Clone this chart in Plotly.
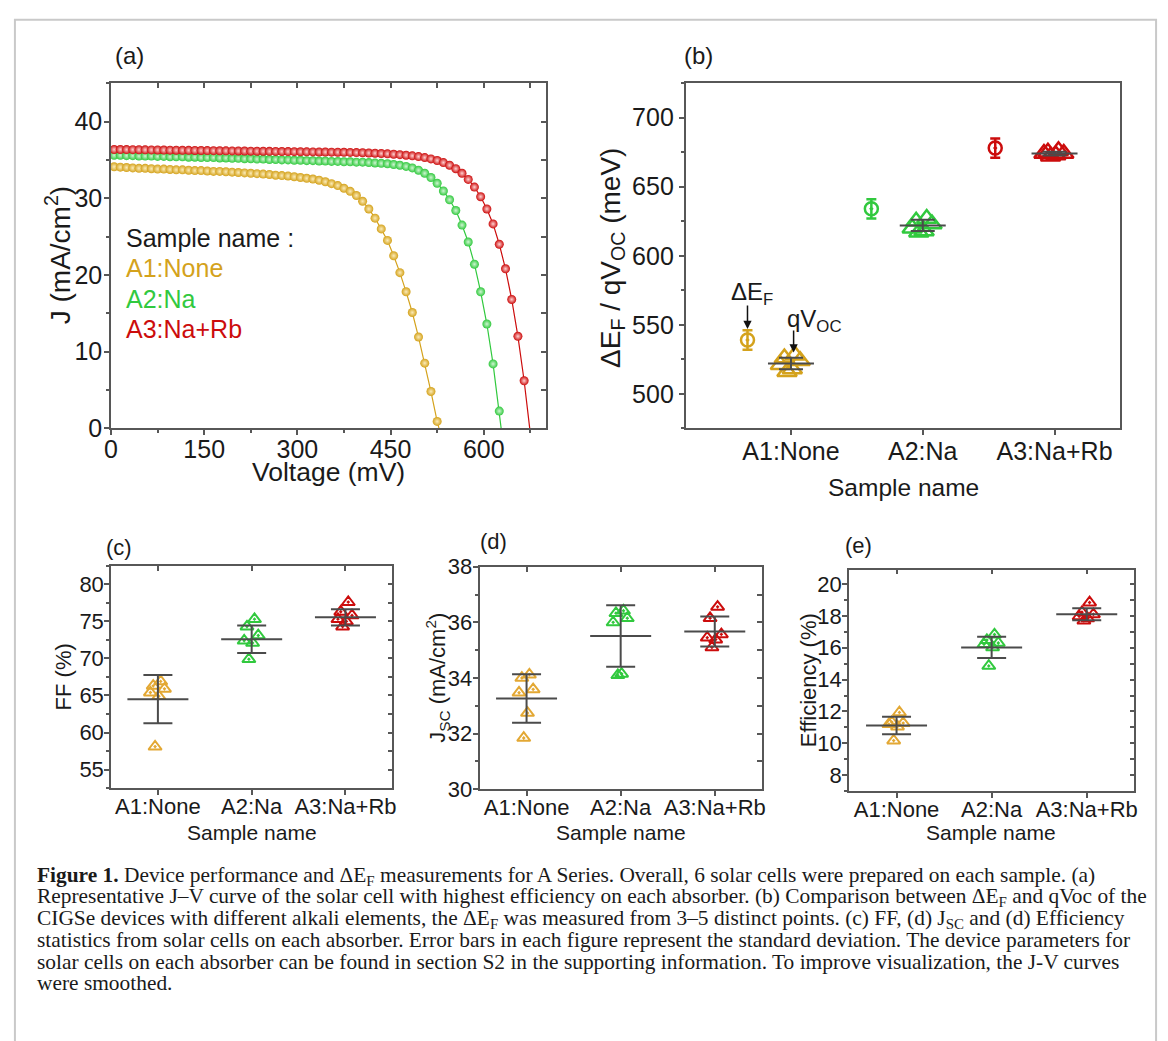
import plotly.graph_objects as go

W, H = 1168, 1041

SANS = "Liberation Sans, Arial, Helvetica, sans-serif"
SERIF = "Liberation Serif, Times New Roman, serif"
INK = "#1a1a1a"
AXIS = "#575757"
GREY = "#4b4b4b"

GOLD, GREEN, RED = "#D4A21C", "#31C93E", "#CC0C0C"
GOLD_LIGHT, GREEN_LIGHT, RED_LIGHT = "#FBEBB8", "#CFF5D2", "#FFD2D2"
GOLD_TRI = "#E3A834"

# ---------------- data ----------------
samples = ["A1:None", "A2:Na", "A3:Na+Rb"]
cats = [1, 2, 3]

# J-V curves: voltage (mV) and current density (mA/cm2)
voltage_mv = [5, 15, 25, 35, 45, 55, 65, 75, 85, 95,
              105, 115, 125, 135, 145, 155, 165, 175, 185, 195,
              205, 215, 225, 235, 245, 255, 265, 275, 285, 295,
              305, 315, 325, 335, 345, 355, 365, 375, 385, 395,
              405, 415, 425, 435, 445, 455, 465, 475, 485, 495,
              505, 515, 525, 535, 545, 555, 565, 575, 585, 595,
              605, 615, 625, 635, 645, 655, 665]

j_none = [34.10, 34.05, 34.00, 33.95, 33.90, 33.90, 33.85, 33.80, 33.80, 33.75,
          33.70, 33.70, 33.65, 33.60, 33.60, 33.55, 33.50, 33.50, 33.45, 33.40,
          33.35, 33.30, 33.25, 33.20, 33.15, 33.10, 33.00, 32.95, 32.90, 32.80,
          32.70, 32.60, 32.50, 32.35, 32.15, 31.90, 31.65, 31.30, 30.90, 30.35,
          29.60, 28.60, 27.40, 26.00, 24.50, 22.50, 20.30, 17.80, 15.10, 11.90,
          8.50, 4.80, 0.90]

j_na = [35.60, 35.60, 35.55, 35.55, 35.50, 35.50, 35.50, 35.45, 35.45, 35.40,
        35.40, 35.40, 35.35, 35.35, 35.30, 35.30, 35.30, 35.25, 35.25, 35.20,
        35.20, 35.15, 35.15, 35.10, 35.10, 35.05, 35.05, 35.00, 35.00, 34.95,
        34.95, 34.90, 34.90, 34.85, 34.85, 34.80, 34.80, 34.75, 34.75, 34.70,
        34.70, 34.65, 34.60, 34.55, 34.50, 34.40, 34.30, 34.15, 33.95, 33.65,
        33.25, 32.70, 31.95, 30.95, 29.80, 28.40, 26.50, 24.30, 21.40, 17.80,
        13.60, 8.40, 2.25]

j_narb = [36.35, 36.35, 36.34, 36.33, 36.32, 36.31, 36.30, 36.29, 36.28, 36.27,
          36.26, 36.25, 36.24, 36.23, 36.22, 36.21, 36.20, 36.19, 36.18, 36.17,
          36.16, 36.15, 36.14, 36.13, 36.12, 36.11, 36.10, 36.09, 36.08, 36.07,
          36.06, 36.05, 36.04, 36.03, 36.02, 36.01, 36.00, 35.99, 35.97, 35.95,
          35.93, 35.90, 35.87, 35.83, 35.79, 35.74, 35.68, 35.61, 35.53, 35.43,
          35.30, 35.13, 34.92, 34.65, 34.30, 33.85, 33.25, 32.45, 31.45, 30.20,
          28.60, 26.65, 24.00, 20.80, 16.80, 12.00, 6.20]

# open-circuit voltage where the smoothed curves reach J = 0
voc_mv = [528, 628, 674]

# quasi-Fermi level splitting (meV) and its spread
def_mean = [539, 634, 678]
def_err = [7, 7, 7]

# qVoc of the individual cells (meV)
qvoc_none = [528, 526, 524, 521, 518, 516]
qvoc_na = [627, 625, 623, 620, 618, 617]
qvoc_narb = [676, 675, 674, 674, 673, 672]
qvoc_mean = [522, 622, 674]
qvoc_sd = [4.2, 4.1, 1.4]

# fill factor (%)
ff_none = [66.9, 66.3, 65.9, 65.4, 64.9, 58.1]
ff_na = [75.3, 74.3, 73.1, 72.4, 72.1, 69.9]
ff_narb = [77.6, 76.3, 75.8, 75.3, 75.0, 74.3]
ff_mean = [64.5, 72.6, 75.55]
ff_sd = [3.25, 1.85, 1.1]

# short-circuit current density (mA/cm2)
jsc_none = [34.12, 34.00, 33.59, 33.47, 32.74, 31.84]
jsc_na = [36.42, 36.33, 36.15, 36.00, 34.15, 34.10]
jsc_narb = [36.56, 36.15, 35.57, 35.45, 35.38, 35.10]
jsc_mean = [33.26, 35.51, 35.67]
jsc_sd = [0.875, 1.11, 0.54]

# efficiency (%)
eff_none = [11.94, 11.33, 11.27, 11.20, 11.05, 10.17]
eff_na = [16.83, 16.48, 16.30, 16.22, 16.02, 14.86]
eff_narb = [18.84, 18.23, 18.10, 17.97, 17.85, 17.70]
eff_mean = [11.12, 16.02, 18.10]
eff_sd = [0.55, 0.67, 0.38]

# ---------------- styling helpers ----------------
jitter = [0.03, -0.05, 0.07, -0.08, 0.01, -0.03]
def_shift = [-0.33, -0.39, -0.45]


def px(x):
    """pixel -> paper fraction (x)"""
    return x / W


def py(y):
    """pixel measured from the top -> paper fraction (y)"""
    return 1 - y / H


def outer_axis(domain, anchor, rng, size, standoff, **tick):
    ax = dict(domain=domain, anchor=anchor, range=rng,
              ticks="outside", ticklen=5, tickwidth=1.5, tickcolor=AXIS,
              showline=True, linecolor=AXIS, linewidth=1.5,
              showgrid=False, zeroline=False, fixedrange=True,
              ticklabelstandoff=standoff,
              tickfont=dict(family=SANS, size=size, color=INK))
    ax.update(tick)
    return ax


def inner_axis(overlay, anchor, side, rng, **tick):
    ax = dict(overlaying=overlay, anchor=anchor, side=side, range=rng,
              ticks="inside", ticklen=5, tickwidth=1.5, tickcolor=AXIS,
              showticklabels=False, showline=True, linecolor=AXIS, linewidth=1.5,
              showgrid=False, zeroline=False, fixedrange=True)
    ax.update(tick)
    return ax


def minor(tick0, dtick):
    return dict(tick0=tick0, dtick=dtick, ticks="outside", ticklen=3,
                tickwidth=1.5, tickcolor=AXIS, showgrid=False)


fig = go.Figure()

# ---------------- (a) J-V curves ----------------
for j, voc, col, tint in [(j_none, voc_mv[0], GOLD, GOLD_LIGHT),
                          (j_na, voc_mv[1], GREEN, GREEN_LIGHT),
                          (j_narb, voc_mv[2], RED, RED_LIGHT)]:
    v = voltage_mv[:len(j)]
    fig.add_trace(go.Scatter(x=v + [voc], y=j + [0], mode="lines",
                             line=dict(color=col, width=1.2),
                             xaxis="x", yaxis="y", hoverinfo="skip"))
    fig.add_trace(go.Scatter(x=v, y=j, mode="markers",
                             marker=dict(size=9, color=col,
                                         gradient=dict(type="radial", color=tint),
                                         line=dict(width=0)),
                             xaxis="x", yaxis="y", hoverinfo="skip"))

# ---------------- (b) dEF vs qVoc ----------------
for i, col in enumerate([GOLD, GREEN, RED]):
    fig.add_trace(go.Scatter(x=[cats[i] + def_shift[i]], y=[def_mean[i]], mode="markers",
                             marker=dict(symbol="circle-open-dot", size=13, color=col,
                                         line=dict(width=2.5, color=col)),
                             error_y=dict(type="data", array=[def_err[i]], width=5,
                                          thickness=2.5, color=col),
                             xaxis="x2", yaxis="y2", hoverinfo="skip"))

for i, (vals, col) in enumerate([(qvoc_none, GOLD), (qvoc_na, GREEN), (qvoc_narb, RED)]):
    fig.add_trace(go.Scatter(x=[cats[i] + d for d in jitter], y=vals, mode="markers",
                             marker=dict(symbol="triangle-up-open", size=17, color=col,
                                         line=dict(width=2.5, color=col)),
                             xaxis="x2", yaxis="y2", hoverinfo="skip"))

fig.add_trace(go.Scatter(x=cats, y=qvoc_mean, mode="markers",
                         marker=dict(symbol="line-ew", size=46 / 1.4, color=GREY,
                                     line=dict(width=2, color=GREY)),
                         error_y=dict(type="data", array=qvoc_sd, width=12,
                                      thickness=2, color=GREY),
                         xaxis="x2", yaxis="y2", hoverinfo="skip"))


# ---------------- (c)-(e) cell statistics ----------------
def stat_panel(xa, ya, groups, means, sds):
    for i, (vals, col) in enumerate(zip(groups, [GOLD_TRI, GREEN, RED])):
        fig.add_trace(go.Scatter(x=[cats[i] + d for d in jitter], y=vals, mode="markers",
                                 marker=dict(symbol="triangle-up-open-dot", size=11.5,
                                             color=col, line=dict(width=2, color=col)),
                                 xaxis=xa, yaxis=ya, hoverinfo="skip"))
    fig.add_trace(go.Scatter(x=cats, y=means, mode="markers",
                             marker=dict(symbol="line-ew", size=61 / 1.4, color=GREY,
                                         line=dict(width=2, color=GREY)),
                             error_y=dict(type="data", array=sds, width=14.5,
                                          thickness=2, color=GREY),
                             xaxis=xa, yaxis=ya, hoverinfo="skip"))


stat_panel("x3", "y3", [ff_none, ff_na, ff_narb], ff_mean, ff_sd)
stat_panel("x4", "y4", [jsc_none, jsc_na, jsc_narb], jsc_mean, jsc_sd)
stat_panel("x5", "y5", [eff_none, eff_na, eff_narb], eff_mean, eff_sd)

# empty traces that activate the inward-tick frame axes
for xa, ya in [("x6", "y"), ("x", "y6"), ("x7", "y3"), ("x3", "y7"),
               ("x8", "y4"), ("x4", "y8"), ("x9", "y5"), ("x5", "y9")]:
    fig.add_trace(go.Scatter(x=[], y=[], xaxis=xa, yaxis=ya, hoverinfo="skip"))

# ---------------- axes ----------------
dom_a = ([px(105), px(544)], [py(427), py(73)])
dom_b = ([px(685), px(1124)], [py(427), py(73)])
dom_c = ([px(105), px(389)], [py(796), py(568)])
dom_d = ([px(477), px(762)], [py(797), py(569)])
dom_e = ([px(850), px(1138)], [py(799), py(572)])

rng_va, rng_ja = [0, 700], [0, 45]
rng_cat_b, rng_mev = [0.2, 3.5], [475, 725]
rng_cat = [0.5, 3.5]
rng_ff, rng_jsc, rng_eff = [52.5, 82.5], [30, 38], [7, 20.9]

TICK_AB, TICK_CE = 25, 22

layout = dict(
    width=W, height=H, autosize=False,
    margin=dict(l=0, r=0, t=0, b=0),
    paper_bgcolor="white", plot_bgcolor="white",
    showlegend=False,
    font=dict(family=SANS, color=INK),
    # (a)
    xaxis=outer_axis(dom_a[0], "y", rng_va, TICK_AB, -7, tickmode="linear", tick0=0,
                     dtick=150, minor=minor(0, 75)),
    yaxis=outer_axis(dom_a[1], "x", rng_ja, TICK_AB, -3, tickmode="linear", tick0=0,
                     dtick=10, minor=minor(0, 5)),
    xaxis6=inner_axis("x", "y", "top", rng_va, tickmode="linear", tick0=0, dtick=75),
    yaxis6=inner_axis("y", "x", "right", rng_ja, tickmode="linear", tick0=0, dtick=5),
    # (b)
    xaxis2=outer_axis(dom_b[0], "y2", rng_cat_b, TICK_AB, -5, tickmode="array",
                      tickvals=cats, ticktext=samples, mirror=True),
    yaxis2=outer_axis(dom_b[1], "x2", rng_mev, TICK_AB, 0, tickmode="linear", tick0=500,
                      dtick=50, minor=minor(500, 25), mirror=True),
    # (c)
    xaxis3=outer_axis(dom_c[0], "y3", rng_cat, TICK_CE, -7, tickmode="array",
                      tickvals=cats, ticktext=samples),
    yaxis3=outer_axis(dom_c[1], "x3", rng_ff, TICK_CE, -4, tickmode="linear", tick0=55,
                      dtick=5, minor=minor(52.5, 2.5)),
    xaxis7=inner_axis("x3", "y3", "top", rng_cat, tickmode="array", tickvals=cats),
    yaxis7=inner_axis("y3", "x3", "right", rng_ff, tickmode="linear", tick0=52.5, dtick=2.5),
    # (d)
    xaxis4=outer_axis(dom_d[0], "y4", rng_cat, TICK_CE, -7, tickmode="array",
                      tickvals=cats, ticktext=samples),
    yaxis4=outer_axis(dom_d[1], "x4", rng_jsc, TICK_CE, -4, tickmode="linear", tick0=30,
                      dtick=2, minor=minor(30, 1)),
    xaxis8=inner_axis("x4", "y4", "top", rng_cat, tickmode="array", tickvals=cats),
    yaxis8=inner_axis("y4", "x4", "right", rng_jsc, tickmode="linear", tick0=30, dtick=1),
    # (e)
    xaxis5=outer_axis(dom_e[0], "y5", rng_cat, TICK_CE, -7, tickmode="array",
                      tickvals=cats, ticktext=samples),
    yaxis5=outer_axis(dom_e[1], "x5", rng_eff, TICK_CE, -4, tickmode="linear", tick0=8,
                      dtick=2, minor=minor(8, 1)),
    xaxis9=inner_axis("x5", "y5", "top", rng_cat, tickmode="array", tickvals=cats),
    yaxis9=inner_axis("y5", "x5", "right", rng_eff, tickmode="linear", tick0=8, dtick=1),
)
fig.update_layout(**layout)

# ---------------- text ----------------
ann = []


def text(s, x, y, size, color=INK, angle=0, xanchor="center", family=SANS):
    ann.append(dict(text=s, x=px(x), y=py(y), xref="paper", yref="paper",
                    showarrow=False, xanchor=xanchor, yanchor="middle",
                    textangle=angle, font=dict(family=family, size=size, color=color)))


# panel labels
text("(a)", 124, 45, 24)
text("(b)", 698, 45, 24)
text("(c)", 113, 549, 22)
text("(d)", 491, 543, 22)
text("(e)", 860, 547, 22)

# axis titles
text("J (mA/cm<sup>2</sup>)", 51, 250, 28, angle=-90)
text("Voltage (mV)", 325, 472, 26.5)
text("ΔE<sub>F</sub> / qV<sub>OC</sub> (meV)", 611, 252, 28, angle=-90)
text("Sample name", 905, 488, 24.5)
text("FF (%)", 58, 682, 22, angle=-90)
text("Sample name", 247, 842, 21)
text("J<sub>SC</sub> (mA/cm<sup>2</sup>)", 435, 683, 22, angle=-90)
text("Sample name", 620, 842, 21)
text("Efficiency (%)", 810, 685, 22, angle=-90)
text("Sample name", 993, 842, 21)

# sample key inside (a)
text("Sample name :", 118, 232, 25, xanchor="left")
for s, col, y in zip(samples, [GOLD, GREEN, RED], [263, 294, 325]):
    text(s, 118, y, 25, color=col, xanchor="left")

# markers labelled in (b)
text("ΔE<sub>F</sub>", 752, 289, 24)
text("qV<sub>OC</sub>", 815, 316, 24)
def_x0 = cats[0] + def_shift[0]
ann.append(dict(x=def_x0, y=def_mean[0] + def_err[0] + 1, ax=def_x0,
                ay=def_mean[0] + def_err[0] + 19, xref="x2", yref="y2",
                axref="x2", ayref="y2", text="", showarrow=True, arrowhead=2,
                arrowsize=1.1, arrowwidth=1.5, arrowcolor="#111111"))
ann.append(dict(x=cats[0] + 0.02, y=max(qvoc_none) + 2, ax=cats[0] + 0.02,
                ay=max(qvoc_none) + 19, xref="x2", yref="y2",
                axref="x2", ayref="y2", text="", showarrow=True, arrowhead=2,
                arrowsize=1.1, arrowwidth=1.5, arrowcolor="#111111"))

# caption
caption = [
    "<b>Figure 1.</b> Device performance and ΔE<sub>F</sub> measurements for A Series. "
    "Overall, 6 solar cells were prepared on each sample. (a)",
    "Representative J–V curve of the solar cell with highest efficiency on each absorber. "
    "(b) Comparison between ΔE<sub>F</sub> and qVoc of the",
    "CIGSe devices with different alkali elements, the ΔE<sub>F</sub> was measured from 3–5 "
    "distinct points. (c) FF, (d) J<sub>SC</sub> and (d) Efficiency",
    "statistics from solar cells on each absorber. Error bars in each figure represent the "
    "standard deviation. The device parameters for",
    "solar cells on each absorber can be found in section S2 in the supporting information. "
    "To improve visualization, the J-V curves",
    "were smoothed.",
]
for k, line in enumerate(caption):
    text(line, 28, 886 + 22 * k, 21.4, xanchor="left", family=SERIF)

fig.update_layout(annotations=ann)

# page frame
fig.add_shape(type="rect", xref="paper", yref="paper",
              x0=px(8), x1=px(1160), y0=py(1080), y1=py(8),
              line=dict(color="#c9c9c9", width=2), fillcolor="rgba(0,0,0,0)", layer="below")

fig.write_html("out.html")
